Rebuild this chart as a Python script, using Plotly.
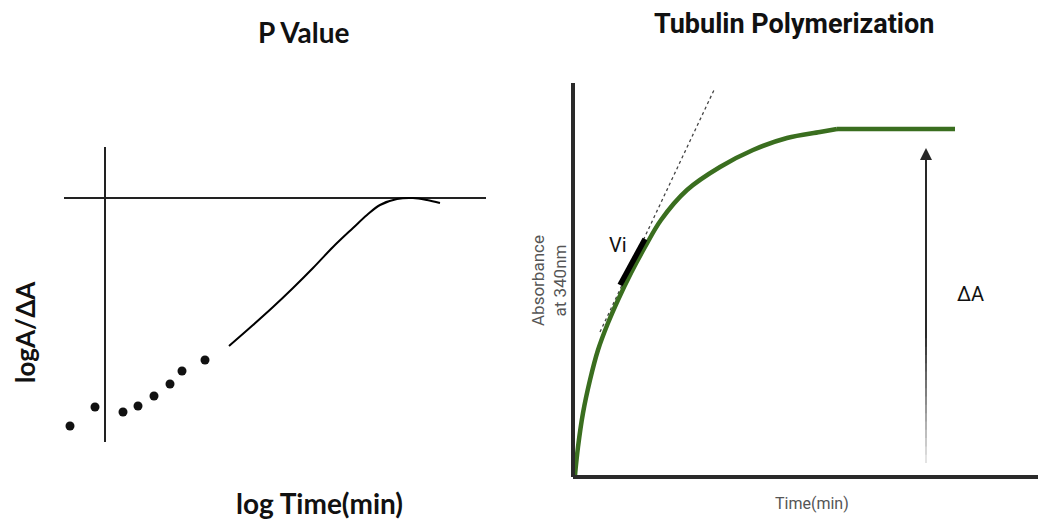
import plotly.graph_objects as go

# ---------------- Left panel: P Value (log A/ΔA vs log time) ----------------
dots_x = [-35, -10, 18, 33, 49, 65, 77, 100]
dots_y = [-228, -209, -214, -208, -198, -186, -173, -162]
curve_x = [124, 148, 168, 188, 208, 228, 248, 262, 275, 292, 308, 322, 335]
curve_y = [-148, -127, -109, -90, -70, -49, -30, -17, -7, -1, 0, -2, -5]
vline_x = [0, 0]
vline_y = [51, -244]
hline_x = [-41, 381]
hline_y = [0, 0]

# ---------------- Right panel: Tubulin polymerization ----------------
time_x = [2, 5, 10, 17, 25, 35, 45, 58, 72, 88, 114, 147, 180, 214, 247, 264]
abs_y = [2, 30, 64, 97, 127, 154, 177, 204, 230, 257, 287, 310, 327, 339, 345, 348]
plateau_x = [264, 382]
plateau_y = [348, 348]
tangent_x = [27, 141]
tangent_y = [145, 387]
vi_x = [47, 72]
vi_y = [192, 238]
yaxis_line_x = [0, 0]
yaxis_line_y = [0, 394]
xaxis_line_x = [0, 470]
xaxis_line_y = [0, 0]
arrow_x = 353
arrow_bottom = 14
arrow_fade_top = 147
arrow_top = 329

fig = go.Figure()

# left panel
fig.add_trace(go.Scatter(x=vline_x, y=vline_y, mode="lines",
                         line=dict(color="#222222", width=2), xaxis="x", yaxis="y"))
fig.add_trace(go.Scatter(x=hline_x, y=hline_y, mode="lines",
                         line=dict(color="#222222", width=2), xaxis="x", yaxis="y"))
fig.add_trace(go.Scatter(x=curve_x, y=curve_y, mode="lines",
                         line=dict(color="#000000", width=2, shape="spline", smoothing=1.0),
                         xaxis="x", yaxis="y"))
fig.add_trace(go.Scatter(x=dots_x, y=dots_y, mode="markers",
                         marker=dict(color="#111111", size=9), xaxis="x", yaxis="y"))

# right panel
fig.add_trace(go.Scatter(x=tangent_x, y=tangent_y, mode="lines",
                         line=dict(color="#444444", width=1.3, dash="dot"),
                         xaxis="x2", yaxis="y2"))
fig.add_trace(go.Scatter(x=time_x, y=abs_y, mode="lines",
                         line=dict(color="#3a6e1f", width=4.5, shape="spline", smoothing=1.0),
                         xaxis="x2", yaxis="y2"))
fig.add_trace(go.Scatter(x=plateau_x, y=plateau_y, mode="lines",
                         line=dict(color="#3a6e1f", width=4.5), xaxis="x2", yaxis="y2"))
fig.add_trace(go.Scatter(x=vi_x, y=vi_y, mode="lines",
                         line=dict(color="#000000", width=5.5), xaxis="x2", yaxis="y2"))
fig.add_trace(go.Scatter(x=yaxis_line_x, y=yaxis_line_y, mode="lines",
                         line=dict(color="#2a2a2a", width=4), xaxis="x2", yaxis="y2"))
fig.add_trace(go.Scatter(x=xaxis_line_x, y=xaxis_line_y, mode="lines",
                         line=dict(color="#2a2a2a", width=4), xaxis="x2", yaxis="y2"))

# fading lower part of arrow shaft
nseg = 16
for i in range(nseg):
    y0 = arrow_bottom + (arrow_fade_top - arrow_bottom) * i / nseg
    y1 = arrow_bottom + (arrow_fade_top - arrow_bottom) * (i + 1) / nseg + 1
    g = int(240 - (240 - 40) * (i + 1) / nseg)
    fig.add_trace(go.Scatter(x=[arrow_x, arrow_x], y=[y0, y1], mode="lines",
                             line=dict(color=f"rgb({g},{g},{g})", width=2),
                             xaxis="x2", yaxis="y2"))

fig.add_annotation(x=arrow_x, y=arrow_top, ax=arrow_x, ay=arrow_fade_top - 1,
                   xref="x2", yref="y2", axref="x2", ayref="y2", text="",
                   showarrow=True, arrowhead=2, arrowsize=1.2, arrowwidth=2,
                   arrowcolor="#282828")

# text
fig.add_annotation(x=45, y=232, xref="x2", yref="y2", text="Vi", showarrow=False,
                   font=dict(family="Roboto", size=20, color="#111111"))
fig.add_annotation(x=397, y=183, xref="x2", yref="y2", text="ΔA", showarrow=False,
                   font=dict(family="Roboto", size=20, color="#111111"))
fig.add_annotation(x=-24, y=196, xref="x2", yref="y2", text="Absorbance<br>at 340nm",
                   showarrow=False, textangle=-90,
                   font=dict(family="Roboto", size=17, color="#555555"))
fig.add_annotation(x=239, y=-26, xref="x2", yref="y2", text="Time(min)", showarrow=False,
                   font=dict(family="Roboto", size=16, color="#555555"))
fig.add_annotation(x=221, y=453, xref="x2", yref="y2", text="<b>Tubulin Polymerization</b>",
                   showarrow=False, font=dict(family="Roboto", size=27, color="#111111"))

fig.add_annotation(x=199, y=166, xref="x", yref="y", text="<b>P Value</b>", showarrow=False,
                   font=dict(family="Lato", size=28, color="#111111"))
fig.add_annotation(x=-80, y=-134, xref="x", yref="y", text="<b>logA/ΔA</b>", showarrow=False,
                   textangle=-90, font=dict(family="Lato", size=26, color="#111111"))
fig.add_annotation(x=214, y=-305, xref="x", yref="y", text="<b>log Time(min)</b>",
                   showarrow=False, font=dict(family="Lato", size=28, color="#111111"))

hidden = dict(visible=False, showgrid=False, zeroline=False, fixedrange=True)
fig.update_layout(
    width=1038, height=520,
    margin=dict(l=0, r=0, t=0, b=0),
    paper_bgcolor="white", plot_bgcolor="white",
    showlegend=False,
    xaxis=dict(domain=[0, 0.5], range=[-105, 414], **hidden),
    yaxis=dict(domain=[0, 1], range=[-322, 198], **hidden),
    xaxis2=dict(domain=[0.5, 1], range=[-54, 465], anchor="y2", **hidden),
    yaxis2=dict(domain=[0, 1], range=[-43, 477], anchor="x2", **hidden),
)

fig.write_html("out.html", config={"displayModeBar": False},
               post_script="document.body.style.margin='0';document.body.style.overflow='hidden';")
